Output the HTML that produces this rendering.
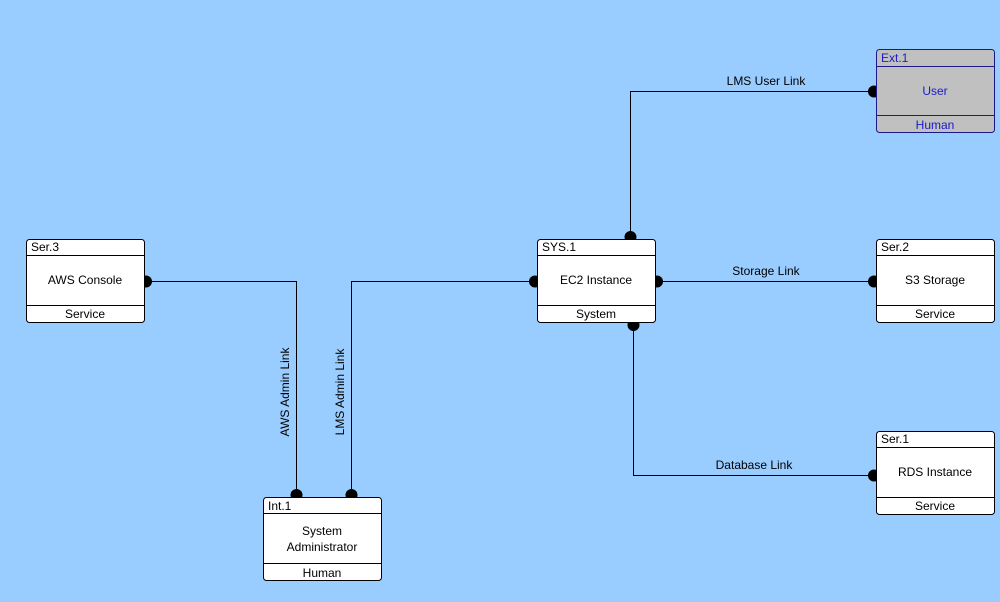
<!DOCTYPE html>
<html><head><style>
html,body{margin:0;padding:0;background:#99ccff;}
svg{display:block;font-family:"Liberation Sans",sans-serif;font-size:12px;}
</style></head><body>
<svg width="1000" height="602" viewBox="0 0 1000 602">
<rect width="1000" height="602" fill="#99ccff"/>
<g stroke="#000" stroke-width="1" fill="none">
<polyline points="144,281.5 296.5,281.5 296.5,497"/>
<polyline points="351.5,497 351.5,281.5 537,281.5"/>
<polyline points="630.5,239 630.5,91.5 876,91.5"/>
<line x1="655" y1="281.5" x2="876" y2="281.5"/>
<polyline points="633.5,323 633.5,475.5 876,475.5"/>
</g>
<g fill="#000">
<circle cx="146" cy="281.5" r="6"/>
<circle cx="296.5" cy="495" r="6"/>
<circle cx="351.5" cy="495" r="6"/>
<circle cx="535" cy="281.5" r="6"/>
<circle cx="657" cy="281.5" r="6"/>
<circle cx="630.5" cy="237" r="6"/>
<circle cx="633.5" cy="325" r="6"/>
<circle cx="874" cy="91.5" r="6"/>
<circle cx="874" cy="281.5" r="6"/>
<circle cx="874" cy="475.5" r="6"/>
</g>
<g fill="#000" text-anchor="middle">
<text x="766" y="85">LMS User Link</text>
<text x="766" y="275">Storage Link</text>
<text x="754" y="469">Database Link</text>
<text transform="translate(289,392) rotate(-90)">AWS Admin Link</text>
<text transform="translate(344,392) rotate(-90)">LMS Admin Link</text>
</g>
<!-- boxes -->
<g stroke="#000" stroke-width="1">
<rect x="26.5" y="239.5" width="118" height="83" rx="3" fill="#fff"/>
<line x1="26.5" y1="255.5" x2="144.5" y2="255.5"/><line x1="26.5" y1="305.5" x2="144.5" y2="305.5"/>
<rect x="537.5" y="239.5" width="118" height="83" rx="3" fill="#fff"/>
<line x1="537.5" y1="255.5" x2="655.5" y2="255.5"/><line x1="537.5" y1="305.5" x2="655.5" y2="305.5"/>
<rect x="876.5" y="239.5" width="118" height="83" rx="3" fill="#fff"/>
<line x1="876.5" y1="255.5" x2="994.5" y2="255.5"/><line x1="876.5" y1="305.5" x2="994.5" y2="305.5"/>
<rect x="876.5" y="431.5" width="118" height="83" rx="3" fill="#fff"/>
<line x1="876.5" y1="447.5" x2="994.5" y2="447.5"/><line x1="876.5" y1="497.5" x2="994.5" y2="497.5"/>
<rect x="263.5" y="497.5" width="118" height="83" rx="3" fill="#fff"/>
<line x1="263.5" y1="513.5" x2="381.5" y2="513.5"/><line x1="263.5" y1="563.5" x2="381.5" y2="563.5"/>
</g>
<g stroke="#1a1a8c" stroke-width="1">
<rect x="876.5" y="49.5" width="118" height="83" rx="3" fill="#c0c0c0"/>
<line x1="876.5" y1="66.5" x2="994.5" y2="66.5"/><line x1="876.5" y1="115.5" x2="994.5" y2="115.5"/>
</g>
<g fill="#000">
<text x="31" y="251">Ser.3</text><text x="85" y="284" text-anchor="middle">AWS Console</text><text x="85" y="318" text-anchor="middle">Service</text>
<text x="542" y="251">SYS.1</text><text x="596" y="284" text-anchor="middle">EC2 Instance</text><text x="596" y="318" text-anchor="middle">System</text>
<text x="881" y="251">Ser.2</text><text x="935" y="284" text-anchor="middle">S3 Storage</text><text x="935" y="318" text-anchor="middle">Service</text>
<text x="881" y="443">Ser.1</text><text x="935" y="476" text-anchor="middle">RDS Instance</text><text x="935" y="510" text-anchor="middle">Service</text>
<text x="268" y="510">Int.1</text><text x="322" y="535" text-anchor="middle">System</text><text x="322" y="551" text-anchor="middle">Administrator</text><text x="322" y="577" text-anchor="middle">Human</text>
</g>
<g fill="#1a1acc">
<text x="881" y="62">Ext.1</text><text x="935" y="95" text-anchor="middle">User</text><text x="935" y="129" text-anchor="middle">Human</text>
</g>
</svg>
</body></html>
